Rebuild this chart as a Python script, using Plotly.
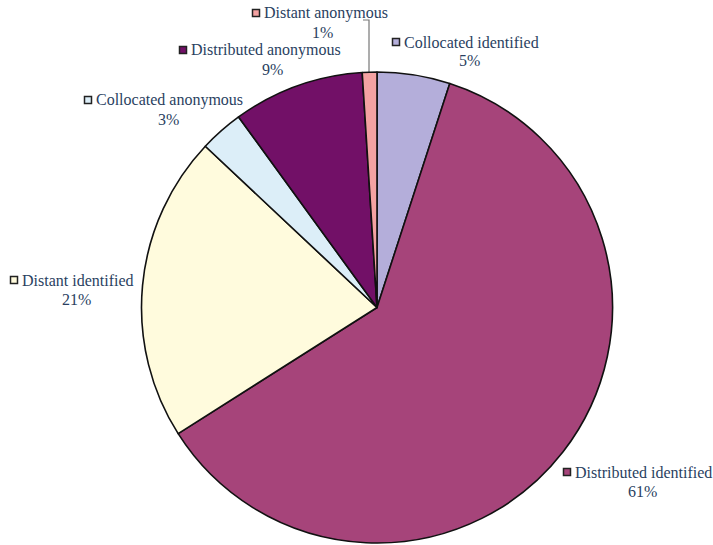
import plotly.graph_objects as go

labels = ["Collocated identified", "Distributed identified", "Distant identified",
          "Collocated anonymous", "Distributed anonymous", "Distant anonymous"]
values = [5, 61, 21, 3, 9, 1]
colors = ["#B4AEDA", "#A6447A", "#FFFBDD", "#DCEEF8", "#721067", "#F4A2A2"]

W, H = 713, 545

# label layout (pixels): name left x, name y, pct center x, pct y
label_pos = {
    "Collocated identified": (402, 42, 469, 60),
    "Distributed identified": (573, 472, 642, 491),
    "Distant identified": (20, 280, 76, 299),
    "Collocated anonymous": (94, 100, 168, 119),
    "Distributed anonymous": (189, 50, 272, 69),
    "Distant anonymous": (262, 13, 322, 32),
}

fig = go.Figure()
fig.add_trace(go.Pie(
    labels=labels, values=values, sort=False, direction="clockwise", rotation=0,
    marker=dict(colors=colors, line=dict(color="#111111", width=1.6)),
    textinfo="none", hoverinfo="label+percent", showlegend=False,
    domain=dict(x=[138 / W, 616 / W], y=[1 - 543 / H, 1 - 72 / H]),
))

# legend-like square markers (pixel coordinate axes)
fig.add_trace(go.Scatter(
    x=[label_pos[l][0] - 6 for l in labels], y=[label_pos[l][1] for l in labels],
    mode="markers", showlegend=False, hoverinfo="skip",
    marker=dict(symbol="square", size=7, color=colors, line=dict(color="#222222", width=1.5)),
))

# leader line for the small slice
fig.add_trace(go.Scatter(
    x=[369, 369, 363], y=[73, 20, 20], mode="lines", showlegend=False, hoverinfo="skip",
    line=dict(color="#777777", width=1.2),
))

for lab, val in zip(labels, values):
    nx, ny, cx, cy = label_pos[lab]
    fig.add_annotation(x=nx, y=ny, xref="x", yref="y", text=lab,
                       showarrow=False, xanchor="left", yanchor="middle",
                       font=dict(family="Liberation Serif", size=16))
    fig.add_annotation(x=cx, y=cy, xref="x", yref="y", text=f"{val}%",
                       showarrow=False, xanchor="center", yanchor="middle",
                       font=dict(family="Liberation Serif", size=16))

fig.update_xaxes(range=[0, W], visible=False, fixedrange=True)
fig.update_yaxes(range=[H, 0], visible=False, fixedrange=True)
fig.update_layout(width=W, height=H, margin=dict(l=0, r=0, t=0, b=0),
                  paper_bgcolor="white", plot_bgcolor="rgba(0,0,0,0)")

fig.write_html("out.html")
